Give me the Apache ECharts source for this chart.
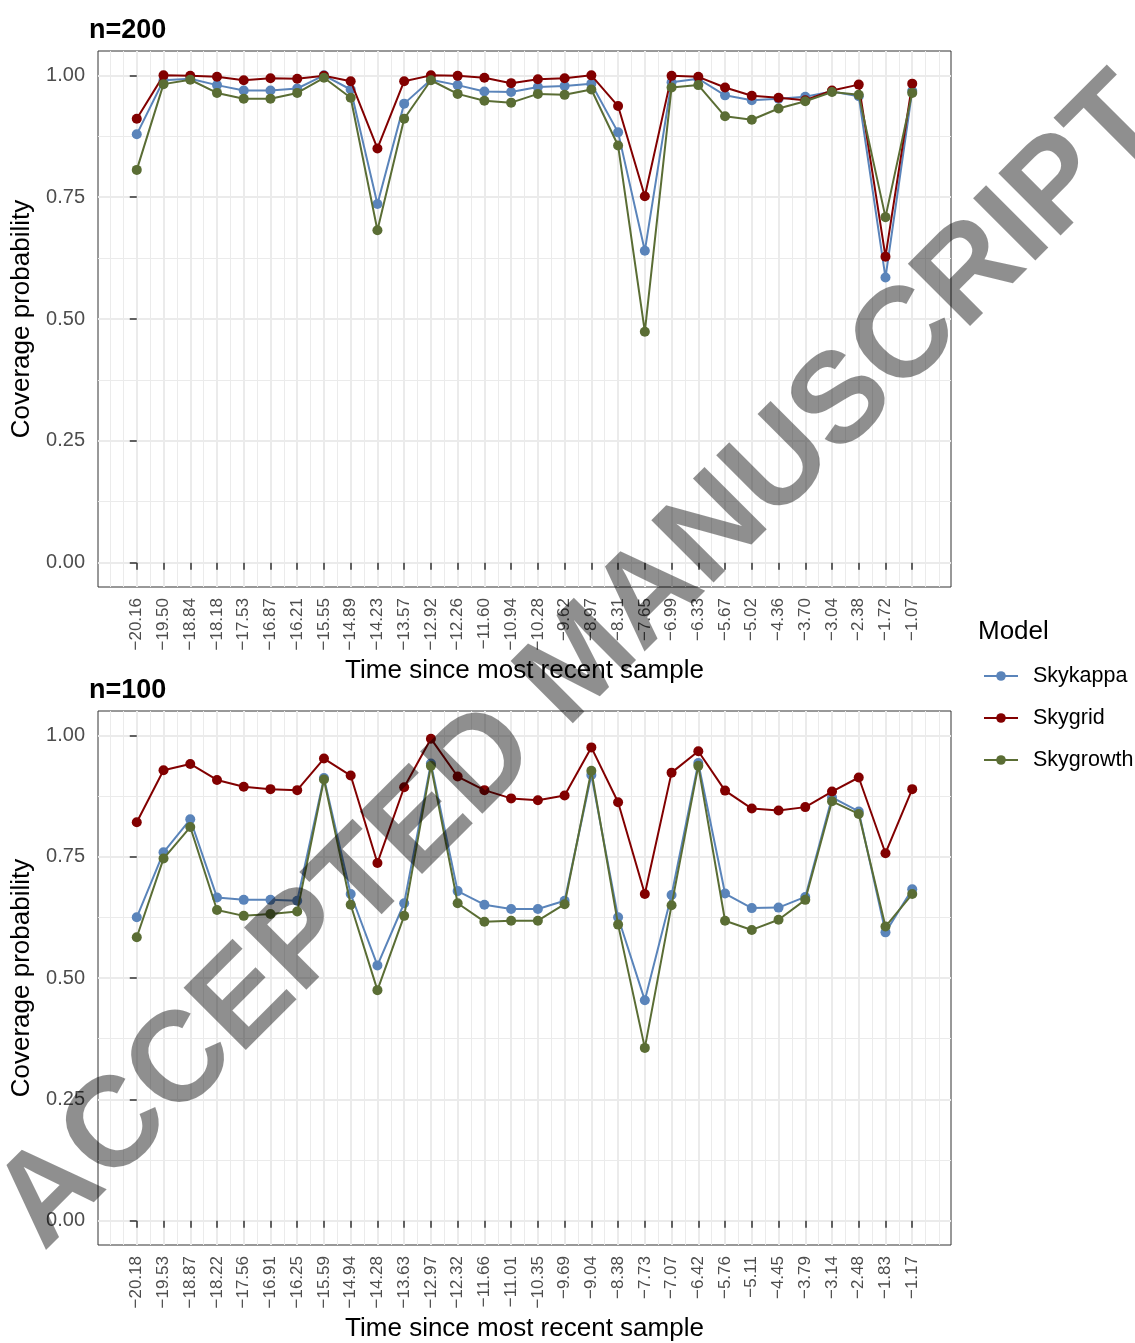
<!DOCTYPE html>
<html>
<head>
<meta charset="utf-8">
<title>Coverage probability by model</title>
<script src="https://cdn.jsdelivr.net/npm/echarts@6/dist/echarts.min.js"></script>
<style>
  html, body { margin: 0; padding: 0; background: #ffffff; }
  #chart { width: 1135px; height: 1343px; }
</style>
</head>
<body>
<div id="chart"></div>
<script>
// Time points (tick labels) for each sample size
const times200 = [-20.16, -19.50, -18.84, -18.18, -17.53, -16.87, -16.21, -15.55, -14.89, -14.23,
                  -13.57, -12.92, -12.26, -11.60, -10.94, -10.28, -9.62, -8.97, -8.31, -7.65,
                  -6.99, -6.33, -5.67, -5.02, -4.36, -3.70, -3.04, -2.38, -1.72, -1.07];
const times100 = [-20.18, -19.53, -18.87, -18.22, -17.56, -16.91, -16.25, -15.59, -14.94, -14.28,
                  -13.63, -12.97, -12.32, -11.66, -11.01, -10.35, -9.69, -9.04, -8.38, -7.73,
                  -7.07, -6.42, -5.76, -5.11, -4.45, -3.79, -3.14, -2.48, -1.83, -1.17];

// Coverage probability, n = 200
const skykappa200  = [0.879, 0.990, 0.993, 0.980, 0.969, 0.969, 0.973, 1.000, 0.971, 0.736,
                      0.942, 0.991, 0.980, 0.967, 0.966, 0.976, 0.978, 0.983, 0.883, 0.640,
                      0.986, 0.993, 0.959, 0.949, 0.952, 0.956, 0.967, 0.957, 0.585, 0.968];
const skygrid200   = [0.911, 1.000, 0.999, 0.997, 0.990, 0.994, 0.993, 0.999, 0.988, 0.850,
                      0.988, 1.000, 0.999, 0.995, 0.984, 0.992, 0.994, 1.000, 0.937, 0.752,
                      0.999, 0.997, 0.975, 0.958, 0.954, 0.949, 0.969, 0.981, 0.628, 0.983];
const skygrowth200 = [0.806, 0.982, 0.991, 0.964, 0.952, 0.952, 0.964, 0.995, 0.954, 0.682,
                      0.911, 0.990, 0.962, 0.948, 0.944, 0.962, 0.960, 0.971, 0.856, 0.474,
                      0.975, 0.980, 0.916, 0.909, 0.932, 0.947, 0.966, 0.960, 0.709, 0.964];

// Coverage probability, n = 100
const skykappa100  = [0.625, 0.759, 0.827, 0.666, 0.661, 0.661, 0.659, 0.912, 0.673, 0.526,
                      0.654, 0.942, 0.679, 0.651, 0.642, 0.642, 0.659, 0.918, 0.625, 0.454,
                      0.671, 0.943, 0.674, 0.644, 0.645, 0.667, 0.872, 0.843, 0.594, 0.683];
const skygrid100   = [0.821, 0.928, 0.941, 0.908, 0.894, 0.889, 0.887, 0.952, 0.917, 0.737,
                      0.893, 0.993, 0.915, 0.887, 0.870, 0.866, 0.876, 0.975, 0.862, 0.673,
                      0.923, 0.967, 0.886, 0.849, 0.845, 0.852, 0.884, 0.913, 0.757, 0.889];
const skygrowth100 = [0.584, 0.746, 0.811, 0.640, 0.628, 0.632, 0.637, 0.909, 0.651, 0.475,
                      0.628, 0.937, 0.654, 0.616, 0.618, 0.618, 0.652, 0.927, 0.610, 0.356,
                      0.650, 0.937, 0.618, 0.599, 0.620, 0.661, 0.864, 0.838, 0.606, 0.673];

const models = ['Skykappa', 'Skygrid', 'Skygrowth'];
const modelColors = { Skykappa: '#5a84ba', Skygrid: '#820000', Skygrowth: '#5a6d34' };
const yTicks = [0, 0.25, 0.5, 0.75, 1];
const yMinor = [0.125, 0.375, 0.625, 0.875];

const FONT = '"Liberation Sans", Arial, Helvetica, sans-serif';
const nPts = times200.length;
const majorX = Array.from({ length: nPts }, (_, i) => i);
const minorX = Array.from({ length: nPts + 1 }, (_, i) => i - 0.5).concat([-1, nPts]);
const xPad = 1.45; // 5% expansion of the time range, in index steps

const panels = [
  { title: 'n=200', top: 51, times: times200, series: [skykappa200, skygrid200, skygrowth200] },
  { title: 'n=100', top: 711, times: times100, series: [skykappa100, skygrid100, skygrowth100] }
];
const panelH = 536;

const fmtTime = v => v.toFixed(2).replace('-', '\u2212');

const grids = [], xAxes = [], yAxes = [], series = [], titles = [];

panels.forEach((p, g) => {
  grids.push({
    left: 98, top: p.top, width: 853, height: panelH,
    show: true, borderColor: '#333333', borderWidth: 1, backgroundColor: 'transparent'
  });
  titles.push({
    text: p.title, left: 84, top: p.top - 39,
    textStyle: { fontFamily: FONT, fontSize: 27, fontWeight: 'bold', color: '#000' }
  });

  // minor vertical grid lines
  xAxes.push({
    type: 'value', gridIndex: g, position: 'bottom', min: -xPad, max: nPts - 1 + xPad,
    axisLine: { show: false }, axisLabel: { show: false },
    axisTick: { show: false, customValues: minorX },
    splitLine: { show: true, lineStyle: { color: '#ebebeb', width: 1 } }
  });
  // main x axis, major grid lines at the sample times
  xAxes.push({
    type: 'value', gridIndex: g, position: 'bottom', min: -xPad, max: nPts - 1 + xPad,
    name: 'Time since most recent sample', nameLocation: 'middle', nameGap: 71,
    nameTextStyle: { fontFamily: FONT, fontSize: 26, color: '#000' },
    axisLine: { show: false },
    axisTick: { show: true, length: 7, customValues: majorX, lineStyle: { color: '#333333', width: 1.5 } },
    axisLabel: {
      show: true, rotate: 90, margin: 11, customValues: majorX,
      fontFamily: FONT, fontSize: 17, color: '#4d4d4d',
      formatter: v => fmtTime(p.times[Math.round(v)])
    },
    splitLine: { show: true, lineStyle: { color: '#ebebeb', width: 2 } }
  });
  // minor horizontal grid lines
  yAxes.push({
    type: 'value', gridIndex: g, position: 'left', min: -0.05, max: 1.05,
    axisLine: { show: false }, axisLabel: { show: false },
    axisTick: { show: false, customValues: yMinor },
    splitLine: { show: true, lineStyle: { color: '#ebebeb', width: 1 } }
  });
  // main y axis
  yAxes.push({
    type: 'value', gridIndex: g, position: 'left', min: -0.05, max: 1.05,
    name: 'Coverage probability', nameLocation: 'middle', nameGap: 60,
    nameTextStyle: { fontFamily: FONT, fontSize: 26, color: '#000' },
    axisLine: { show: false },
    axisTick: { show: true, length: 7, customValues: yTicks, lineStyle: { color: '#333333', width: 1.5 } },
    axisLabel: {
      show: true, margin: 13, customValues: yTicks,
      fontFamily: FONT, fontSize: 20, color: '#4d4d4d',
      formatter: v => v.toFixed(2)
    },
    splitLine: { show: true, lineStyle: { color: '#ebebeb', width: 2 } }
  });

  models.forEach((m, k) => {
    series.push({
      name: m, type: 'line',
      xAxisIndex: g * 2 + 1, yAxisIndex: g * 2 + 1,
      data: p.series[k].map((v, i) => [i, v]),
      symbol: 'circle', symbolSize: 10, showAllSymbol: true,
      lineStyle: { color: modelColors[m], width: 2 },
      itemStyle: { color: modelColors[m] },
      emphasis: { disabled: true },
      z: 3 + k
    });
  });
});

titles.push({
  text: 'Model', left: 973, top: 614,
  textStyle: { fontFamily: FONT, fontSize: 26, fontWeight: 'normal', color: '#000' }
});

const chart = echarts.init(document.getElementById('chart'), null, { renderer: 'canvas' });
chart.setOption({
  animation: false,
  backgroundColor: '#ffffff',
  title: titles,
  grid: grids,
  xAxis: xAxes,
  yAxis: yAxes,
  legend: {
    orient: 'vertical', left: 978, top: 660,
    itemWidth: 34, itemHeight: 12, itemGap: 20,
    data: models,
    textStyle: { fontFamily: FONT, fontSize: 21.5, color: '#000', padding: [0, 0, 0, 10] },
    selectedMode: false
  },
  series: series,
  graphic: [{
    type: 'text', x: 582, y: 664, rotation: Math.PI / 4, z: 100,
    style: {
      text: 'ACCEPTED MANUSCRIPT', fontFamily: FONT, fontSize: 128, fontWeight: 'bold',
      fill: 'rgba(0,0,0,0.44)', align: 'center', verticalAlign: 'middle'
    }
  }]
});
</script>
</body>
</html>
